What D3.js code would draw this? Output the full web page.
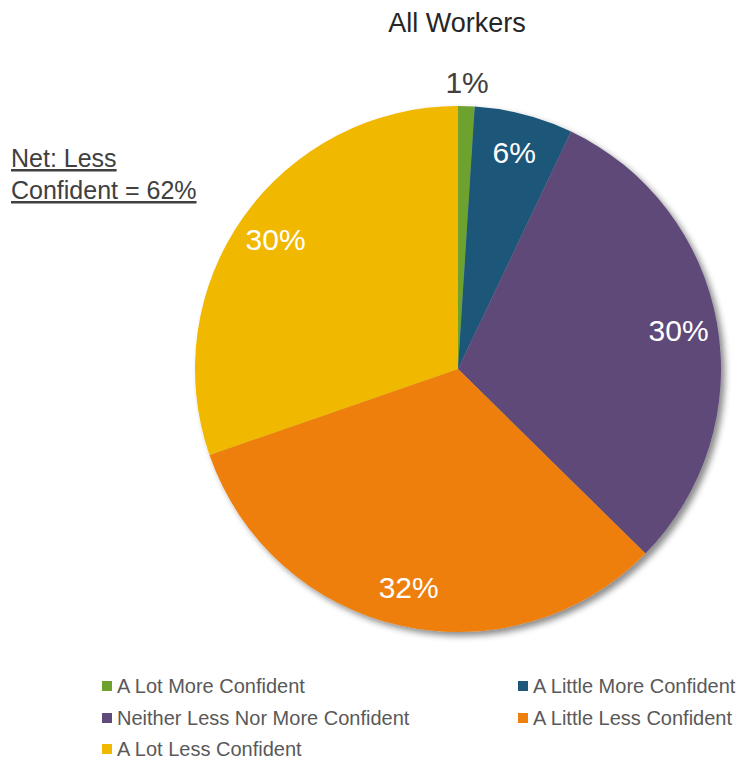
<!DOCTYPE html>
<html><head><meta charset="utf-8">
<script src="https://cdn.jsdelivr.net/npm/d3@7"></script>
<style>
body{margin:0;background:#fff;}
svg{display:block;}
</style></head>
<body>
<svg id="chart" width="740" height="760"></svg>
<script>
const categories = ["A Lot More Confident","A Little More Confident","Neither Less Nor More Confident","A Little Less Confident","A Lot Less Confident"];
const values = [1, 6, 30, 32, 30];
const colors = ["#6ea22d","#1d5779","#5f4a79","#ee7f0c","#f1b800"];
const labelColors = ["#404040","#ffffff","#ffffff","#ffffff","#ffffff"];
const title = "All Workers";
const noteLines = ["Net: Less","Confident = 62%"];

const svg = d3.select("#chart");
const cx = 458, cy = 369, R = 263;

const defs = svg.append("defs");
const f = defs.append("filter").attr("id","shadow").attr("x","-10%").attr("y","-10%").attr("width","130%").attr("height","130%");
f.append("feDropShadow").attr("dx",4).attr("dy",4).attr("stdDeviation",3).attr("flood-color","#000").attr("flood-opacity",0.45);

svg.append("text").attr("x",457).attr("y",32).attr("text-anchor","middle")
  .attr("font-family","Liberation Sans, Arial, sans-serif").attr("font-size",27).attr("fill","#262626").text(title);

const note = svg.append("text").attr("font-family","Liberation Sans, Arial, sans-serif").attr("font-size",25)
  .attr("fill","#404040").attr("text-decoration","underline");
noteLines.forEach((t,i)=>note.append("tspan").attr("x",11).attr("y",167+i*32).text(t));

const pie = d3.pie().value(d=>d).sort(null);
const arcs = pie(values);
const arc = d3.arc().innerRadius(0).outerRadius(R);
const g = svg.append("g").attr("transform",`translate(${cx},${cy})`);
const slices = g.append("g").attr("filter","url(#shadow)");
slices.selectAll("path").data(arcs).join("path").attr("d",arc).attr("fill",(d,i)=>colors[i]);

const labelArc = d3.arc().innerRadius(224).outerRadius(224);
const outArc = d3.arc().innerRadius(287).outerRadius(287);
g.selectAll("text.lbl").data(arcs).join("text").attr("class","lbl")
  .attr("transform",(d,i)=>{const p = (i===0?outArc:labelArc).centroid(d); return `translate(${p[0]},${p[1]})`;})
  .attr("text-anchor","middle").attr("dominant-baseline","central")
  .attr("font-family","Liberation Sans, Arial, sans-serif").attr("font-size",30)
  .attr("fill",(d,i)=>labelColors[i]).text(d=>d.data+"%");

const legendPos = [[102,686],[518,686],[102,718],[518,718],[102,749]];
const lg = svg.append("g");
categories.forEach((c,i)=>{
  const [x,y] = legendPos[i];
  lg.append("rect").attr("x",x).attr("y",y-5).attr("width",10).attr("height",10).attr("fill",colors[i]);
  lg.append("text").attr("x",x+15).attr("y",y).attr("dominant-baseline","central")
    .attr("font-family","Liberation Sans Narrow, Arial Narrow, sans-serif").attr("font-size",20).attr("fill","#595959").text(c);
});
</script>
</body></html>
